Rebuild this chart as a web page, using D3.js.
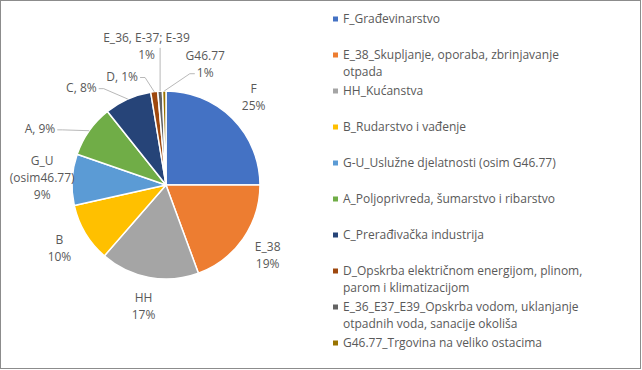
<!DOCTYPE html>
<html>
<head>
<meta charset="utf-8">
<script src="https://cdn.jsdelivr.net/npm/d3@7"></script>
<style>
  body { margin: 0; background: #fff; }
  text { font-family: "Open Sans", "Noto Sans", sans-serif; font-size: 12px; fill: #595959; }
</style>
</head>
<body>
<script>
// slices, clockwise from 12 o'clock
const codes = ["F", "E_38", "HH", "B", "G_U", "A", "C", "D", "E_36", "G46.77"];
const shares = [25.0, 19.4, 17.0, 10.1, 8.8, 9.0, 8.1, 1.2, 0.8, 0.6];
const pieLabels = [
    ["F", "25%"],
    ["E_38", "19%"],
    ["HH", "17%"],
    ["B", "10%"],
    ["G_U", "(osim46.77)", "9%"],
    ["A, 9%"],
    ["C, 8%"],
    ["D, 1%"],
    ["E_36, E-37; E-39", "1%"],
    ["G46.77", "1%"]
];
const legendNames = [
    ["F_Građevinarstvo"],
    ["E_38_Skupljanje, oporaba, zbrinjavanje", "otpada"],
    ["HH_Kućanstva"],
    ["B_Rudarstvo i vađenje"],
    ["G-U_Uslužne djelatnosti (osim G46.77)"],
    ["A_Poljoprivreda, šumarstvo i ribarstvo"],
    ["C_Prerađivačka industrija"],
    ["D_Opskrba električnom energijom, plinom,", "parom i klimatizacijom"],
    ["E_36_E37_E39_Opskrba vodom, uklanjanje", "otpadnih voda, sanacije okoliša"],
    ["G46.77_Trgovina na veliko ostacima"]
];
const colors = ["#4472C4", "#ED7D31", "#A5A5A5", "#FFC000", "#5B9BD5",
                "#70AD47", "#264478", "#9E480E", "#636363", "#997300"];

const W = 642, H = 370;
const cx = 166, cy = 185, R = 94;

// small slices get pulled-out labels with leader lines (angle in degrees, radius)
const pulled = {
    "A": [294, 138],
    "C": [319, 129],
    "D": [338, 117],
    "E_36": [352, 140],
    "G46.77": [18, 127]
};

const svg = d3.select("body").append("svg")
    .attr("width", W)
    .attr("height", H);

svg.append("rect")
    .attr("x", 0.5).attr("y", 0.5)
    .attr("width", W - 2).attr("height", H - 2)
    .attr("fill", "#fff")
    .attr("stroke", "#8c8c8c");

const color = d3.scaleOrdinal().domain(codes).range(colors);

const pie = d3.pie().sort(null).value(d => d.v);
const data = codes.map((c, i) => ({ c, v: shares[i], lines: pieLabels[i] }));
const arcs = pie(data);
const arc = d3.arc().innerRadius(0).outerRadius(R);

const g = svg.append("g").attr("transform", `translate(${cx},${cy})`);

g.selectAll("path")
    .data(arcs)
    .join("path")
    .attr("d", arc)
    .attr("fill", d => color(d.data.c))
    .attr("stroke", "#fff")
    .attr("stroke-width", 1.5)
    .attr("stroke-linejoin", "round");

const polar = (a, r) => [r * Math.sin(a), -r * Math.cos(a)];
const lh = 17;

arcs.forEach(d => {
    const mid = (d.startAngle + d.endAngle) / 2;
    const p = pulled[d.data.c];
    const [lx, ly] = p ? polar(p[0] * Math.PI / 180, p[1]) : polar(mid, 124);
    const n = d.data.lines.length;
    const t = g.append("text")
        .attr("text-anchor", "middle");
    d.data.lines.forEach((s, k) => {
        t.append("tspan")
            .attr("x", lx)
            .attr("y", ly + (k - (n - 1) / 2) * lh + 4)
            .text(s);
    });
    if (p) {
        const lastLine = t.selectAll("tspan").nodes()[n - 1].getBBox();
        const [ax, ay] = polar(mid, R);
        const left = lx < ax;
        const lw = lastLine.width;
        const ex = left ? lx + lw / 2 + 2 : lx - lw / 2 - 2;
        const ey = ly + (n - 1) / 2 * lh + 1;
        let pts;
        if (Math.abs(ex - ax) < 6) {
            // label sits right above the slice: straight drop
            pts = [[ax, ey - 8], [ax, ay]];
        } else {
            pts = [[ex, ey], [ex + (left ? 5 : -5), ey], [ax, ay]];
        }
        g.append("path")
            .attr("d", d3.line()(pts))
            .attr("fill", "none")
            .attr("stroke", "#a6a6a6")
            .attr("stroke-width", 0.8);
    }
});

// legend
const lg = svg.append("g").attr("transform", "translate(333,0)");
const ly = d3.scaleLinear().domain([0, 1]).range([19, 55]);

legendNames.forEach((lines, i) => {
    const y = ly(i);
    lg.append("rect")
        .attr("x", 0).attr("y", y - 2.5)
        .attr("width", 5).attr("height", 5)
        .attr("fill", colors[i]);
    const t = lg.append("text");
    lines.forEach((s, k) => {
        t.append("tspan")
            .attr("x", 10)
            .attr("y", y + 4 + k * lh)
            .text(s);
    });
});
</script>
</body>
</html>
